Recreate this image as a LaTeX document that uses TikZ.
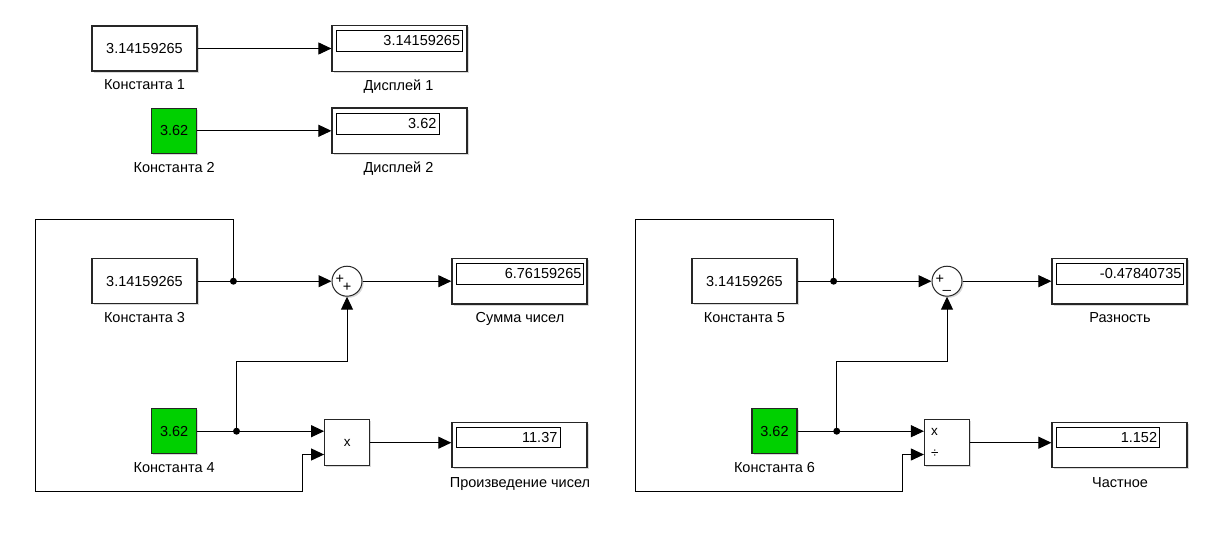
\documentclass[tikz,border=0pt]{standalone}
\usepackage{fontspec}
\setmainfont{Liberation Sans}
\usetikzlibrary{arrows.meta,shadows,calc}
\definecolor{cgreen}{RGB}{0,208,0}
\begin{document}
\begin{tikzpicture}[x=1pt,y=-1pt,
  blk/.style={draw=black!85, line width=1.2pt, fill=white, inner sep=0pt,
    font=\fontsize{14.5}{17}\selectfont,
    drop shadow={shadow xshift=1.6pt,shadow yshift=-1.6pt,opacity=0.3}},
  wide/.style={blk, minimum width=105pt, minimum height=45pt},
  grn/.style={blk, fill=cgreen, minimum width=45pt, minimum height=45pt},
  disp/.style={blk, minimum width=135pt, minimum height=45.5pt},
  inbox/.style={draw=black, line width=0.9pt, inner sep=0pt, minimum height=20.7pt, anchor=north west},
  val/.style={inner sep=0pt, anchor=east, font=\fontsize{14.5}{17}\selectfont},
  opbox/.style={blk, minimum width=45pt, minimum height=46pt},
  sumc/.style={blk, circle, line width=1pt, minimum size=30pt},
  sgn/.style={inner sep=0pt, font=\fontsize{14.5}{16}\selectfont},
  lbl/.style={inner sep=0pt, anchor=base, font=\fontsize{14.5}{17}\selectfont},
  conn/.style={line width=1pt, -{Triangle[length=13pt,width=12pt]}},
  wire/.style={line width=1pt},
  dot/.style={fill=black}
]
\useasboundingbox (0,0) rectangle (1215,549);

% ---------- top row ----------
\node[wide] (c1) at (144.5,48.5) {3.14159265};
\node[disp] (d1) at (399.5,48.5) {};
\node[inbox, minimum width=126pt] (d1i) at ($(d1.north west)+(5,5)$) {};
\node[val] (d1v) at ($(d1i.east)+(-3,0)$) {3.14159265};
\node[lbl] (c1l) at ($(c1.south)+(0,18.3)$) {Константа 1};
\node[lbl] (d1l) at ($(d1.south)+(-1,18.3)$) {Дисплей 1};
\draw[conn] (c1) -- (d1);

\node[grn] (c2) at (174.2,130.8) {3.62};
\node[disp] (d2) at (399.5,130.8) {};
\node[inbox, minimum width=102.3pt] (d2i) at ($(d2.north west)+(5,5.5)$) {};
\node[val] (d2v) at ($(d2i.east)+(-3,0)$) {3.62};
\node[lbl] (c2l) at ($(c2.south)+(0,18.3)$) {Константа 2};
\node[lbl] (d2l) at ($(d2.south)+(-1,18.3)$) {Дисплей 2};
\draw[conn] (c2) -- (d2);

% ---------- bottom left ----------
\node[wide] (c3) at (144.5,281.2) {3.14159265};
\node[lbl] (c3l) at ($(c3.south)+(0,18.3)$) {Константа 3};
\node[sumc] (s1) at (347,281.2) {};
\node[sgn] (s1a) at ($(s1)+(-7.2,-1.5)$) {+};
\node[sgn] (s1b) at ($(s1)+(0,6.5)$) {+};
\node[disp] (ds) at (519.4,281.2) {};
\node[inbox, minimum width=126.4pt] (dsi) at ($(ds.north west)+(5,5)$) {};
\node[val] (dsv) at ($(dsi.east)+(-2,0)$) {6.76159265};
\node[lbl] (dsl) at ($(ds.south)+(0.6,18.3)$) {Сумма чисел};

\node[grn] (c4) at (174.2,431.2) {3.62};
\node[lbl] (c4l) at ($(c4.south)+(0,18.3)$) {Константа 4};
\node[opbox] (p1) at (347.2,442.7) {\fontsize{13.5}{15}\selectfont x};
\node[disp] (dp) at (519.4,445) {};
\node[inbox, minimum width=103.4pt] (dpi) at ($(dp.north west)+(5,5)$) {};
\node[val] (dpv) at ($(dpi.east)+(-3,0)$) {11.37};
\node[lbl] (dpl) at ($(dp.south)+(0.6,19.5)$) {Произведение чисел};

\coordinate (j1) at (233.4,281.2);
\coordinate (j2) at (236.5,431.2);
\coordinate (k1) at (236.5,361.7);
\coordinate (l1a) at (233.4,219.3);
\coordinate (l1b) at (35.3,219.3);
\coordinate (l1c) at (35.3,491.7);
\coordinate (l1d) at (302.8,491.7);
\coordinate (p1i2) at ($(p1.south west)!0.25!(p1.north west)$);

\draw[wire] (c3) -- (j1);
\draw[conn] (j1) -- (s1);
\draw[conn] (s1) -- (ds);
\draw[wire] (c4) -- (j2);
\draw[conn] (j2) -- (j2 -| p1.west);
\draw[conn] (j2) -- (k1) -| (s1.south);
\draw[conn] (j1) -- (l1a) -- (l1b) -- (l1c) -- (l1d) |- (p1i2);
\draw[conn] (p1.east) -- (p1.east -| dp.west);
\fill[dot] (j1) circle[radius=3.5pt];
\fill[dot] (j2) circle[radius=3.5pt];

% ---------- bottom right ----------
\node[wide] (c5) at (744.4,281.2) {3.14159265};
\node[lbl] (c5l) at ($(c5.south)+(0,18.3)$) {Константа 5};
\node[sumc] (s2) at (947,281.2) {};
\node[sgn] (s2a) at ($(s2)+(-7.2,-1.5)$) {+};
\node[sgn] (s2b) at ($(s2)+(0,8.3)$) {\_};
\node[disp] (dd) at (1119.5,281.2) {};
\node[inbox, minimum width=126.3pt] (ddi) at ($(dd.north west)+(5,5)$) {};
\node[val] (ddv) at ($(ddi.east)+(-2,0)$) {-0.47840735};
\node[lbl] (ddl) at ($(dd.south)+(0.5,18.3)$) {Разность};

\node[grn] (c6) at (774.5,431.2) {3.62};
\node[lbl] (c6l) at ($(c6.south)+(0,18.3)$) {Константа 6};
\node[opbox] (q1) at (947,442.7) {};
\node[inner sep=0pt, anchor=west, font=\fontsize{13.5}{15}\selectfont] (q1a) at (931,432) {x};
\node[inner sep=0pt, anchor=west, font=\fontsize{13.5}{15}\selectfont] (q1b) at (931,453.5) {÷};
\node[disp] (dq) at (1119.5,445) {};
\node[inbox, minimum width=103pt] (dqi) at ($(dq.north west)+(5,5)$) {};
\node[val] (dqv) at ($(dqi.east)+(-3,0)$) {1.152};
\node[lbl] (dql) at ($(dq.south)+(0.5,19.5)$) {Частное};

\coordinate (j3) at (833.6,281.2);
\coordinate (j4) at (836.7,431.2);
\coordinate (k2) at (836.7,361.7);
\coordinate (l2a) at (833.6,219.3);
\coordinate (l2b) at (635,219.3);
\coordinate (l2c) at (635,491.7);
\coordinate (l2d) at (902.6,491.7);
\coordinate (q1i2) at ($(q1.south west)!0.25!(q1.north west)$);

\draw[wire] (c5) -- (j3);
\draw[conn] (j3) -- (s2);
\draw[conn] (s2) -- (dd);
\draw[wire] (c6) -- (j4);
\draw[conn] (j4) -- (j4 -| q1.west);
\draw[conn] (j4) -- (k2) -| (s2.south);
\draw[conn] (j3) -- (l2a) -- (l2b) -- (l2c) -- (l2d) |- (q1i2);
\draw[conn] (q1.east) -- (q1.east -| dq.west);
\fill[dot] (j3) circle[radius=3.5pt];
\fill[dot] (j4) circle[radius=3.5pt];
\end{tikzpicture}
\end{document}
